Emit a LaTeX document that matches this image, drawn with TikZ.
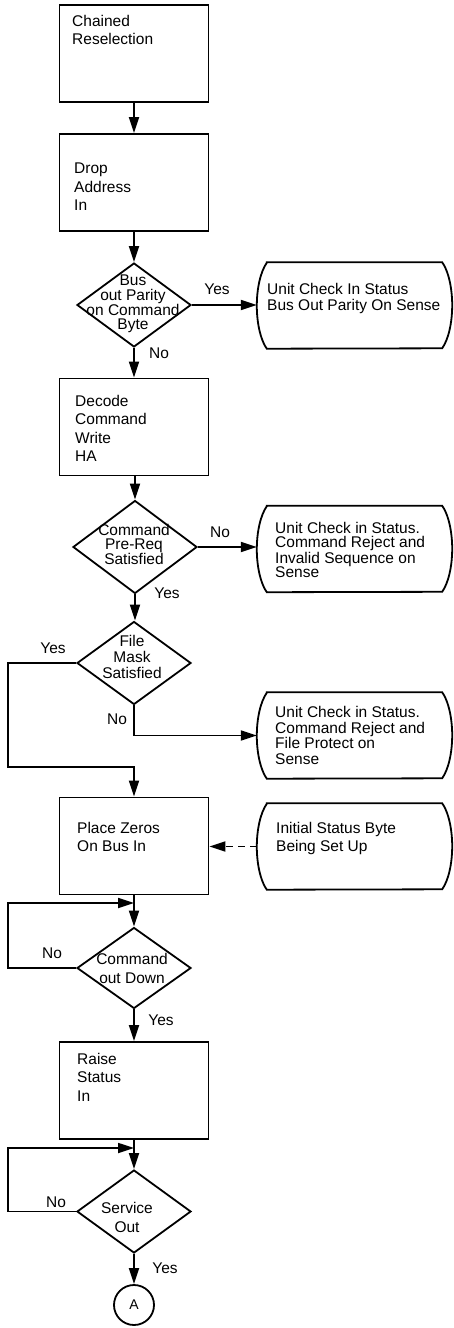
\documentclass[tikz,border=0pt]{standalone}
\usepackage{fontspec}
\setmainfont{Liberation Sans}
\usetikzlibrary{shapes.geometric, arrows.meta, calc}

\tikzset{
  flow/.style={line width=1.8pt, -{Triangle[length=16pt,width=10pt]}},
  plain/.style={line width=1.8pt},
  procbox/.style={draw, line width=1.8pt, minimum width=149pt, minimum height=97pt, inner sep=0pt},
  decision/.style={draw, diamond, line width=1.8pt, minimum width=114pt, minimum height=84pt, inner sep=0pt},
  terminal/.style={minimum width=195pt, minimum height=86pt, inner sep=0pt},
  btext/.style={anchor=north west, align=left, inner sep=0pt, font=\fontsize{15.5}{#1}\selectfont},
  btext/.default=18.5,
  dtext/.style={align=center, inner sep=0pt, font=\fontsize{15.5}{#1}\selectfont},
  dtext/.default=16,
  lbl/.style={inner sep=0pt, font=\fontsize{15.5}{18}\selectfont},
}

\begin{document}
\begin{tikzpicture}[x=1pt, y=-1pt]

    \useasboundingbox (0,0) rectangle (453,1328);

    %% Process boxes
    \node[procbox] (b1) at (134,53.5) {};
    \node[procbox] (b2) at (134,182.5) {};
    \node[procbox] (b3) at (134,427) {};
    \node[procbox] (b4) at (134,846) {};
    \node[procbox] (b5) at (134,1090.5) {};

    \node[btext] (t1) at (72,15) {Chained\\Reselection};
    \node[btext] (t2) at (74,163) {Drop\\Address\\In};
    \node[btext] (t3) at (75,395) {Decode\\Command\\Write\\HA};
    \node[btext] (t4) at (77,822) {Place Zeros\\On Bus In};
    \node[btext] (t5) at (77,1053) {Raise\\Status\\In};

    %% Decisions
    \node[decision] (d1) at (134,305) {};
    \node[decision, minimum width=124pt, minimum height=93pt] (d2) at (135,547) {};
    \node[decision, minimum height=83pt] (d3) at (134,663) {};
    \node[decision, minimum height=81pt] (d4) at (134,968) {};
    \node[decision, minimum height=83pt] (d5) at (134,1211.5) {};

    \node[dtext=14.2] (q1) at (133,304) {Bus\\out Parity\\on Command\\Byte};
    \node[dtext=14.5] (q2) at (134,544) {Command\\Pre-Req\\Satisfied};
    \node[dtext=16] (q3) at (132,657) {File\\Mask\\Satisfied};
    \node[dtext=19] (q4) at (132,968.5) {Command\\out Down};
    \node[dtext=19] (q5) at (127,1217.5) {Service\\Out};

    %% Terminals
    \node[terminal] (u1) at (354.5,305.5) {};
    \node[terminal] (u2) at (354.5,549) {};
    \node[terminal] (u3) at (354.5,735.5) {};
    \node[terminal] (u4) at (354.5,846.5) {};
    \foreach \t in {u1,u2,u3,u4}
      \draw[plain] ([xshift=10pt]\t.north west) -- ([xshift=-10pt]\t.north east)
        arc[start angle=60, end angle=-60, x radius=20pt, y radius=49.65pt]
        -- ([xshift=10pt]\t.south west)
        arc[start angle=240, end angle=120, x radius=20pt, y radius=49.65pt] -- cycle;

    \node[btext=16.5] (s1) at (267,283) {Unit Check In Status\\Bus Out Parity On Sense};
    \node[btext=14.2] (s2) at (275,522) {Unit Check in Status.\\Command Reject and\\Invalid Sequence on\\Sense};
    \node[btext=15.7] (s3) at (275,706) {Unit Check in Status.\\Command Reject and\\File Protect on\\Sense};
    \node[btext=18] (s4) at (276,822) {Initial Status Byte\\Being Set Up};

    %% Off-page connector
    \node[circle, draw, line width=1.8pt, minimum size=40pt, inner sep=0pt, font=\fontsize{14}{16}\selectfont] (a) at (134,1305) {A};

    %% Loop corners
    \coordinate (c1) at (8,767);
    \coordinate (c2) at (8,903);
    \coordinate (c3) at (8,1148);

    %% Flow lines
    \draw[flow] (b1.south) -- (b2.north);
    \draw[flow] (b2.south) -- (d1.north);
    \draw[flow] (d1.east) -- (d1.east -| u1.west);
    \draw[flow] (d1.south) -- (b3.north);
    \draw[flow] (d2.north |- b3.south) -- (d2.north);
    \draw[flow] (d2.east) -- (d2.east -| u2.west);
    \draw[flow] (d2.south) -- (d3.north -| d2.south);
    \draw[flow] (d3.west) -| (c1) -- (c1 -| b4.north) -- (b4.north);
    \draw[flow] (d3.south) |- (u3.west);
    \draw[flow, dash pattern=on 7pt off 5pt] (u4.west) -- (u4.west -| b4.east);
    \draw[flow] (b4.south) -- (d4.north);
    \draw[flow] (d4.west) -| (c2) -- (c2 -| d4.north);
    \draw[flow] (d4.south) -- (b5.north);
    \draw[flow] (b5.south) -- (d5.north);
    \draw[flow] (d5.west) -| (c3) -- (c3 -| d5.north);
    \draw[flow] (d5.south) -- (a.north);

    %% Branch labels
    \node[lbl] (y1) at (217,289) {Yes};
    \node[lbl] (n1) at (159,353) {No};
    \node[lbl] (n2) at (220,532) {No};
    \node[lbl] (y2) at (167,593) {Yes};
    \node[lbl] (y3) at (53,648) {Yes};
    \node[lbl] (n3) at (117,719) {No};
    \node[lbl] (n4) at (52,953) {No};
    \node[lbl] (y4) at (161,1020) {Yes};
    \node[lbl] (n5) at (56,1202) {No};
    \node[lbl] (y5) at (165,1268) {Yes};

\end{tikzpicture}
\end{document}
